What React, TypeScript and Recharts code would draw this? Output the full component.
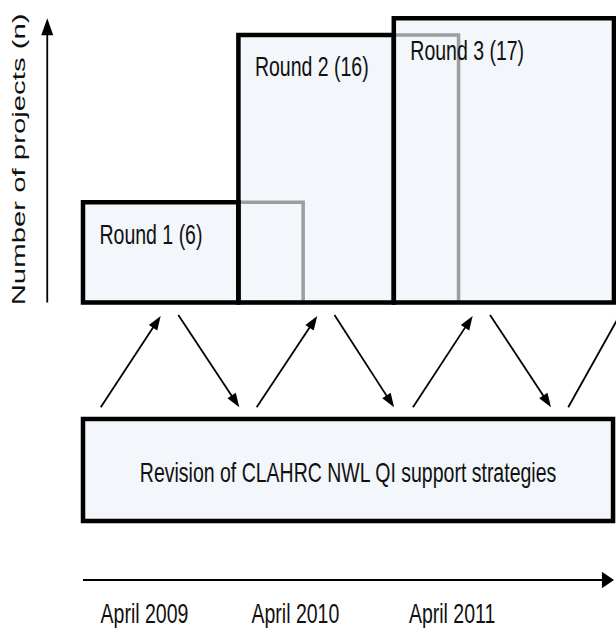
import { ComposedChart, XAxis, YAxis, ReferenceArea, ReferenceLine } from "recharts";

// rounds of QI projects (x = months from start of round 1, y = number of projects)
const roundNames = ["Round 1", "Round 2", "Round 3"];
const projectCounts = [6, 16, 17];
const roundStartMonth = [0, 12, 24];
const roundEndMonth = [12, 24, 41];
const roundOverrunEnd = [17, 29]; // grey outline: round 1 and 2 still running

const tickMonths = [4.75, 16.4, 28.5];
const tickLabels = ["April 2009", "April 2010", "April 2011"];

// feedback cycle arrows between the rounds and the revision box
const cycleFrom = [
  [1.37, -6.27], [7.36, -0.75], [13.41, -6.27], [19.42, -0.75],
  [25.48, -6.27], [31.43, -0.75], [37.47, -6.27],
];
const cycleTo = [
  [6.0, -0.81], [12.07, -6.27], [18.09, -0.81], [24.02, -6.27],
  [30.09, -0.81], [36.14, -6.27], [42.0, 0.0],
];

const revisionLabel = "Revision of CLAHRC NWL QI support strategies";
const revisionMonths = [0, 40.93];
const revisionLevels = [-6.97, -13.07];

const yAxisTitle = "Number of projects (n)";
const yArrowMonth = -2.76;
const yArrowRange = [0, 17];
const timeArrowLevel = -16.6;
const timeArrowRange = [0, 41];

const FONT = "'Liberation Sans', Arial, Helvetica, sans-serif";
const FILL = "#f3f6fa";
const GREY = "#9c9ea0";

function arrow(len: number, half: number, width: number, extra?: (p: any) => any) {
  return (p: any) => {
    const { x1, y1, x2, y2 } = p;
    const dx = x2 - x1, dy = y2 - y1;
    const d = Math.hypot(dx, dy) || 1;
    const ux = dx / d, uy = dy / d;
    const bx = x2 - ux * len, by = y2 - uy * len;
    const pts = `${x2},${y2} ${bx - uy * half},${by + ux * half} ${bx + uy * half},${by - ux * half}`;
    return (
      <g>
        <line x1={x1} y1={y1} x2={bx + ux} y2={by + uy} stroke="#000" strokeWidth={width} />
        <polygon points={pts} fill="#000" />
        {extra ? extra(p) : null}
      </g>
    );
  };
}

const yTitle = (p: any) => (
  <text
    transform={`translate(${p.x1 - 22.3},${(p.y1 + p.y2) / 2 - 1}) rotate(-90)`}
    textAnchor="middle"
    fontFamily={FONT}
    fontSize={17.5}
    textLength={292}
    lengthAdjust="spacingAndGlyphs"
    fill="#111"
  >
    {yAxisTitle}
  </text>
);

const TimeTick = (props: any) => {
  const { x, y, payload } = props;
  const i = tickMonths.indexOf(payload.value);
  return (
    <text
      transform={`translate(${x},${y + 43}) scale(1,1.4)`}
      textAnchor="middle"
      fontFamily={FONT}
      fontSize={19.5}
      fill="#111"
    >
      {tickLabels[i]}
    </text>
  );
};

const roundLabel = (text: string) => (props: any) => {
  const vb = props.viewBox;
  return (
    <text
      transform={`translate(${vb.x + 16.5},${vb.y + 41.5}) scale(1,1.4)`}
      fontFamily={FONT}
      fontSize={19.5}
      fill="#111"
    >
      {text}
    </text>
  );
};

const revisionText = (props: any) => {
  const vb = props.viewBox;
  return (
    <text
      transform={`translate(${vb.x + vb.width / 2},${vb.y + vb.height / 2 + 12}) scale(1,1.4)`}
      textAnchor="middle"
      fontFamily={FONT}
      fontSize={19.5}
      fill="#111"
    >
      {revisionLabel}
    </text>
  );
};

export default function App() {
  return (
    <div>
      <style>{"body{margin:0}"}</style>
      <ComposedChart width={616} height={628} margin={{ top: 0, right: 0, bottom: 0, left: 0 }}>
        <XAxis
          type="number"
          dataKey="m"
          domain={[-6.409, 41.158]}
          allowDataOverflow
          ticks={tickMonths}
          tick={TimeTick}
          axisLine={false}
          tickLine={false}
          tickSize={0}
          tickMargin={0}
          height={48}
          interval={0}
        />
        <YAxis type="number" hide domain={[-16.6, 18.09]} allowDataOverflow />

        {roundNames.map((r, i) => (
          <ReferenceArea
            key={"fill" + r}
            x1={roundStartMonth[i]}
            x2={roundEndMonth[i]}
            y1={0}
            y2={projectCounts[i]}
            fill={FILL}
            fillOpacity={1}
            stroke="none"
            ifOverflow="visible"
          />
        ))}
        {roundOverrunEnd.map((end, i) => (
          <ReferenceArea
            key={"grey" + i}
            x1={roundStartMonth[i]}
            x2={end}
            y1={0}
            y2={projectCounts[i]}
            fill="none"
            stroke={GREY}
            strokeWidth={3.5}
            ifOverflow="visible"
          />
        ))}
        {roundNames.map((r, i) => (
          <ReferenceArea
            key={"box" + r}
            x1={roundStartMonth[i]}
            x2={roundEndMonth[i]}
            y1={0}
            y2={projectCounts[i]}
            fill="none"
            stroke="#000"
            strokeWidth={4.5}
            ifOverflow="visible"
            label={roundLabel(`${r} (${projectCounts[i]})`)}
          />
        ))}

        {cycleFrom.map((f, i) => (
          <ReferenceLine
            key={"cyc" + i}
            segment={[{ x: f[0], y: f[1] }, { x: cycleTo[i][0], y: cycleTo[i][1] }]}
            ifOverflow="visible"
            shape={arrow(14, 5, 1.8)}
          />
        ))}

        <ReferenceArea
          x1={revisionMonths[0]}
          x2={revisionMonths[1]}
          y1={revisionLevels[0]}
          y2={revisionLevels[1]}
          fill={FILL}
          fillOpacity={1}
          stroke="#000"
          strokeWidth={4.5}
          ifOverflow="visible"
          label={revisionText}
        />

        <ReferenceLine
          segment={[{ x: yArrowMonth, y: yArrowRange[0] }, { x: yArrowMonth, y: yArrowRange[1] }]}
          ifOverflow="visible"
          shape={arrow(17, 6, 1.8, yTitle)}
        />
        <ReferenceLine
          segment={[{ x: timeArrowRange[0], y: timeArrowLevel }, { x: timeArrowRange[1], y: timeArrowLevel }]}
          ifOverflow="visible"
          shape={arrow(12, 8.3, 2)}
        />
      </ComposedChart>
    </div>
  );
}
